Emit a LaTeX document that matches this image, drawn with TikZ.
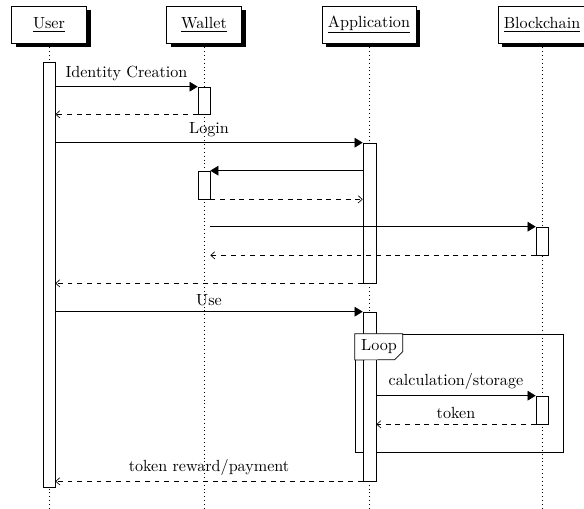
\documentclass[tikz,border=0pt]{standalone}
\usetikzlibrary{arrows.meta,fit,shadows}
\begin{document}
\begin{tikzpicture}[x=0.62pt,y=-0.62pt,
  head/.style={draw,fill=white,minimum width=46.5pt,minimum height=23pt,inner xsep=3.7pt,
    drop shadow={shadow xshift=2.5pt,shadow yshift=-2.5pt,fill=black,opacity=1}},
  life/.style={dotted},
  bar/.style={draw,fill=white,inner sep=0pt},
  frame/.style={draw,inner sep=0pt},
  call/.style={-{Triangle[length=5pt,width=6pt]}},
  reply/.style={dashed,-{Straight Barb[length=2.5pt,width=4.5pt]}},
  lbl/.style={midway,above}]
\useasboundingbox (0,0) rectangle (584,508);
\coordinate (bottom) at (0,508);

% participants
\node[head] (uhead) at (49,24.5) {\underline{User}};
\node[head] (whead) at (204,24.5) {\underline{Wallet}};
\node[head] (ahead) at (369,24.5) {\underline{Application}};
\node[head] (bhead) at (542,24.5) {\underline{Blockchain}};

% lifelines
\foreach \p in {uhead,whead,ahead,bhead}
  \draw[life] (\p.south) -- (\p.south |- bottom);

% loop frame
\node[frame,fit={(355,334) (563,452)}] (loop) {};

% activation bars
\node[bar,fit={(43,62) (55,487)}] (ua) {};
\node[bar,fit={(198,87) (210,114)}] (wa1) {};
\node[bar,fit={(363,143) (376,283)}] (aa1) {};
\node[bar,fit={(198,171) (210,199)}] (wa2) {};
\node[bar,fit={(536,227) (548,255)}] (ba1) {};
\node[bar,fit={(363,312) (376,481)}] (aa2) {};
\node[bar,fit={(536,396) (548,424)}] (ba2) {};

% loop tab
\draw[fill=white] (loop.north west) -- ++(48,0) -- ++(0,18) -- ++(-8,8)
  -- (loop.north west |- 0,360) -- cycle;
\node (looplbl) at (379,347) {Loop};

% messages
\draw[call] (ua.east |- wa1.north) -- (wa1.north west) node[lbl] {Identity Creation};
\draw[reply] (wa1.south west) -- (ua.east |- wa1.south);

\draw[call] (ua.east |- aa1.north) -- (aa1.north west) node[lbl] {Login};
\draw[call] (aa1.west |- wa2.north) -- (wa2.north east);
\draw[reply] (wa2.south east) -- (aa1.west |- wa2.south);
\draw[call] (wa2.east |- ba1.north) -- (ba1.north west);
\draw[reply] (ba1.south west) -- (wa2.east |- ba1.south);
\draw[reply] (aa1.south west) -- (ua.east |- aa1.south);

\draw[call] (ua.east |- aa2.north) -- (aa2.north west) node[lbl] {Use};
\draw[call] (aa2.east |- ba2.north) -- (ba2.north west) node[lbl] {calculation/storage};
\draw[reply] (ba2.south west) -- (aa2.east |- ba2.south) node[lbl] {token};
\draw[reply] (aa2.south west) -- (ua.east |- aa2.south) node[lbl] {token reward/payment};
\end{tikzpicture}
\end{document}
